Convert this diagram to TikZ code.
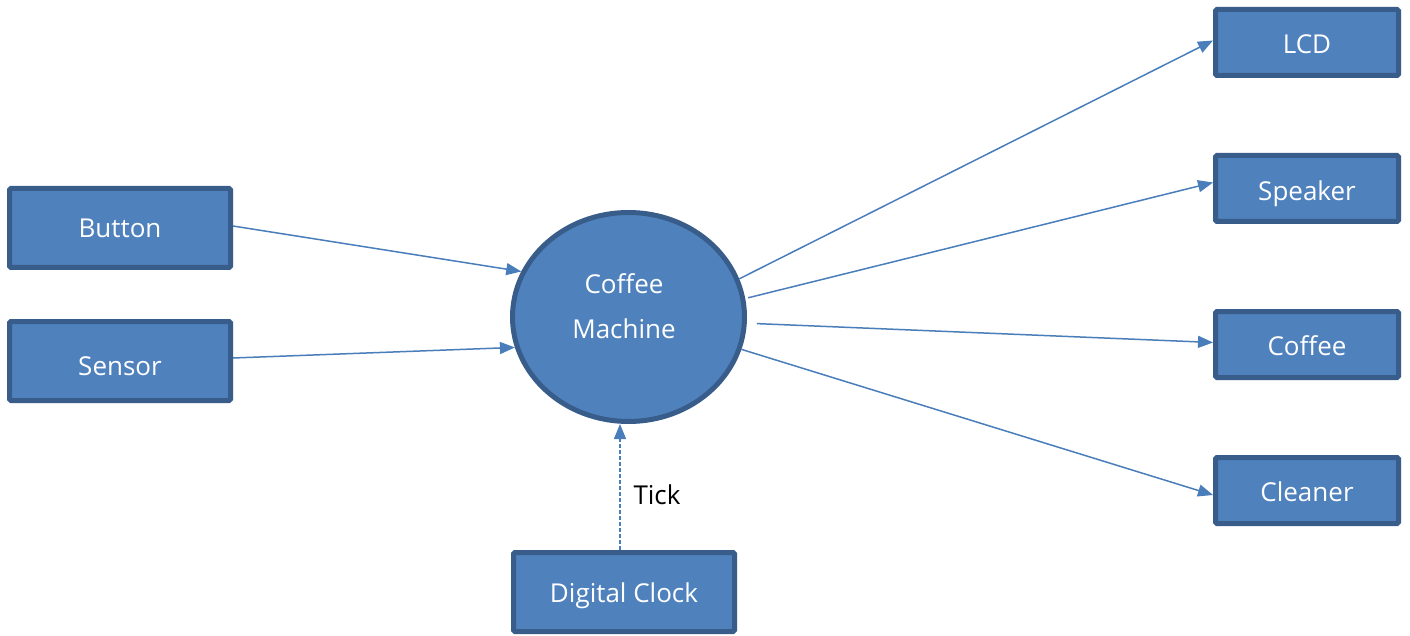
\documentclass[tikz,border=0pt]{standalone}
\usepackage{fontspec}
\setmainfont{Open Sans}
\usetikzlibrary{arrows.meta,calc,shapes.geometric}
\definecolor{boxfill}{HTML}{4F81BD}
\definecolor{boxline}{HTML}{385D8A}
\definecolor{arrowc}{HTML}{4A7EBB}
\begin{document}
\begin{tikzpicture}[x=1pt,y=-1pt,
  every node/.style={font=\fontsize{26}{46}\selectfont},
  box/.style={rectangle,draw=boxline,fill=boxfill,line width=5pt,rounded corners=1.5pt,text=white,inner sep=0pt,text depth=0pt,text height=18.6pt},
  down/.style={text height=18.6pt+2*#1},
  wbox/.style={box,minimum width=221pt,minimum height=79pt},
  rbox/.style={box,minimum width=183pt,minimum height=66pt},
  wtext/.style={text=white,inner sep=0pt,anchor=base},
  conn/.style={draw=arrowc,line width=1.5pt,-{Triangle[length=15pt,width=12pt]}},
  dconn/.style={conn,dash pattern=on 4pt off 2pt}]
\useasboundingbox (0,0) rectangle (1410,636);
\fill[white] (0,0) rectangle (1410,636);
\node[box,ellipse,minimum width=232pt,minimum height=209pt] (cm) at (628.5,317) {};
\node[wtext] (cm1) at (624,293) {Coffee};
\node[wtext] (cm2) at (624,338) {Machine};
\node[wbox] (button) at (120,228) {Button};
\node[wbox,down=5pt] (sensor) at (120,361) {Sensor};
\node[wbox,down=1pt] (clock) at (624,592) {Digital Clock};
\node[rbox,down=2pt] (lcd) at (1307,42.5) {LCD};
\node[rbox,down=2.5pt] (speaker) at (1307,188.5) {Speaker};
\node[rbox,down=2pt] (coffee) at (1307,344.5) {Coffee};
\node[rbox,down=2pt] (cleaner) at (1307,490.5) {Cleaner};
\node[text=black] (tick) at (657,495) {Tick};
\draw[conn] ($(button.east)+(0,-2)$) -- (cm.157);
\draw[conn] ($(sensor.east)+(0,-3)$) -- (cm.-165.6);
\draw[conn] (cm.19) -- ($(lcd.west)+(0,-2)$);
\draw[conn,shorten <=3pt] (cm.9) -- ($(speaker.west)+(0,-6)$);
\draw[conn,shorten <=10pt] (cm.-3.6) -- ($(coffee.west)+(0,-2)$);
\draw[conn] (cm.-16.8) -- ($(cleaner.west)+(0,4.5)$);
\coordinate (d1) at ($(clock.north)+(-4,0)$);
\draw[dconn] (d1) -- (d1 |- cm.south);
\end{tikzpicture}
\end{document}
